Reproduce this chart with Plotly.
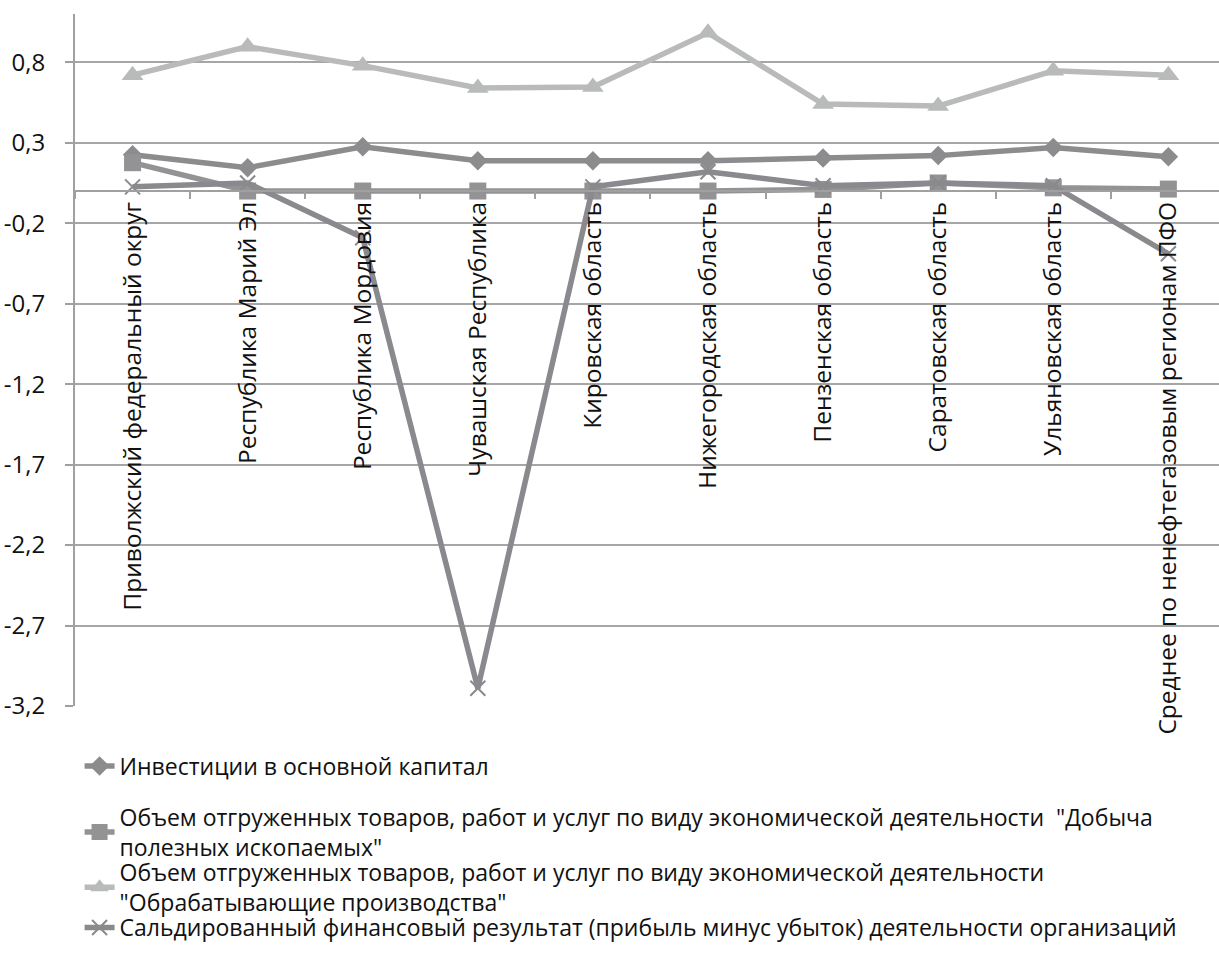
import plotly.graph_objects as go

# Regions of the Volga Federal District plus the district average
regions = [
    "Приволжский федеральный округ",
    "Республика Марий Эл",
    "Республика Мордовия",
    "Чувашская Республика",
    "Кировская область",
    "Нижегородская область",
    "Пензенская область",
    "Саратовская область",
    "Ульяновская область",
    "Среднее по ненефтегазовым регионам ПФО",
]

investments = [0.225, 0.145, 0.275, 0.188, 0.188, 0.188, 0.205, 0.22, 0.27, 0.213]
mining = [0.176, 0.0, 0.0, 0.0, 0.0, 0.0, 0.01, 0.05, 0.02, 0.012]
manufacturing = [0.72, 0.897, 0.779, 0.64, 0.646, 0.983, 0.54, 0.528, 0.747, 0.72]
fin_result = [0.026, 0.05, -0.29, -3.09, 0.026, 0.12, 0.033, 0.05, 0.033, -0.39]

series_names = [
    "Инвестиции в основной капитал",
    "Объем отгруженных товаров, работ и услуг по виду экономической деятельности  \"Добыча<br>полезных ископаемых\"",
    "Объем отгруженных товаров, работ и услуг по виду экономической деятельности<br>\"Обрабатывающие производства\"",
    "Сальдированный финансовый результат (прибыль минус убыток) деятельности организаций",
]

y_ticks = [0.8, 0.3, -0.2, -0.7, -1.2, -1.7, -2.2, -2.7, -3.2]
y_tick_text = ["0,8", "0,3", "-0,2", "-0,7", "-1,2", "-1,7", "-2,2", "-2,7", "-3,2"]

Y_MIN, Y_MAX = -3.2, 1.1
FONT = "Open Sans"
TEXT = "#111111"

fig = go.Figure()

# each series gets its own legend box so the entries can be stacked freely
styles = [
    dict(color="#8c8c8e", symbol="diamond", size=15, legend="legend"),
    dict(color="#939395", symbol="square", size=17, legend="legend2"),
    dict(color="#b9baba", symbol="triangle-up", size=19, legend="legend3"),
    dict(color="#8a8a8e", symbol="x-thin", size=15, legend="legend4"),
]

for name, values, st in zip(series_names, [investments, mining, manufacturing, fin_result], styles):
    marker = dict(symbol=st["symbol"], size=st["size"], color=st["color"])
    if st["symbol"] == "x-thin":
        marker["line"] = dict(color=st["color"], width=2)
    else:
        marker["line"] = dict(width=0)
    fig.add_trace(go.Scatter(
        x=regions,
        y=values,
        name=name,
        mode="lines+markers",
        line=dict(color=st["color"], width=5.5),
        marker=marker,
        legend=st["legend"],
    ))

legend_common = dict(
    x=0.004,
    xanchor="left",
    yanchor="top",
    font=dict(family=FONT, size=23, color=TEXT),
    itemwidth=30,
    tracegroupgap=0,
    bgcolor="rgba(0,0,0,0)",
)

fig.update_layout(
    width=1219,
    height=953,
    margin=dict(l=75, r=0, t=14, b=247, autoexpand=False),
    paper_bgcolor="white",
    plot_bgcolor="white",
    font=dict(family=FONT, size=22, color=TEXT),
    showlegend=True,
    legend=dict(y=-0.0556, **legend_common),
    legend2=dict(y=-0.1293, **legend_common),
    legend3=dict(y=-0.2095, **legend_common),
    legend4=dict(y=-0.2890, **legend_common),
    xaxis=dict(
        type="category",
        range=[-0.5, 9.44],
        anchor="free",
        position=(0 - Y_MIN) / (Y_MAX - Y_MIN),
        showline=True,
        linecolor="#a0a0a0",
        linewidth=2,
        ticks="outside",
        tickson="boundaries",
        ticklen=7,
        tickwidth=1.5,
        tickcolor="#a0a0a0",
        tickangle=-90,
        showgrid=False,
        zeroline=False,
        automargin=False,
        tickfont=dict(family=FONT, size=24.5, color=TEXT),
    ),
    yaxis=dict(
        range=[Y_MIN, Y_MAX],
        tickvals=y_ticks,
        ticktext=y_tick_text,
        showgrid=True,
        gridcolor="#a6a6a6",
        gridwidth=2,
        showline=True,
        linecolor="#a0a0a0",
        linewidth=2,
        ticks="outside",
        ticklen=8,
        tickwidth=2,
        tickcolor="#a0a0a0",
        zeroline=False,
        automargin=False,
        ticklabelstandoff=15,
        tickfont=dict(family=FONT, size=24, color=TEXT),
    ),
)

fig.write_html("out.html")
